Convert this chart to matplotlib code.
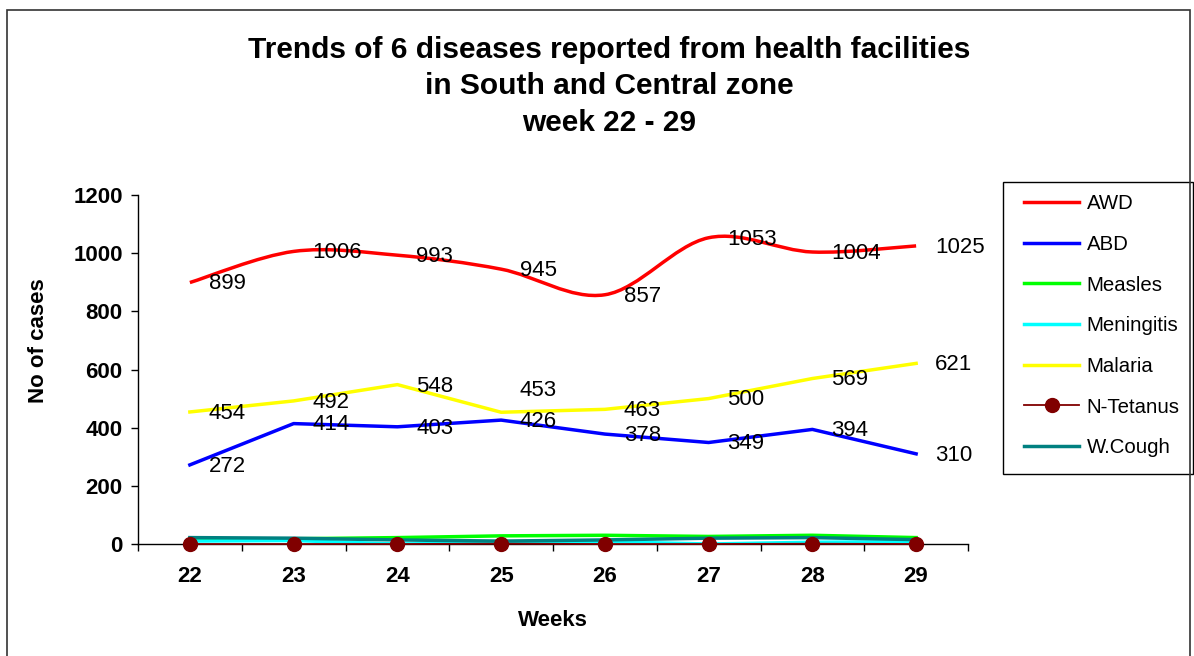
import numpy as np
import matplotlib.pyplot as plt
from matplotlib.path import Path
from matplotlib.patches import PathPatch, Rectangle
from matplotlib.lines import Line2D

plt.rcParams['font.family'] = ['Liberation Sans', 'DejaVu Sans']

# data
weeks = [22, 23, 24, 25, 26, 27, 28, 29]
awd = [899, 1006, 993, 945, 857, 1053, 1004, 1025]
abd = [272, 414, 403, 426, 378, 349, 394, 310]
measles = [16, 18, 22, 28, 30, 26, 30, 22]
meningitis = [10, 12, 0, 4, 8, 0, 6, 8]
malaria = [454, 492, 548, 453, 463, 500, 569, 621]
n_tetanus = [0, 0, 0, 1, 0, 0, 1, 0]
w_cough = [22, 20, 14, 10, 14, 20, 22, 15]

W, H = 1194, 656
fig = plt.figure(figsize=(W / 100, H / 100), dpi=100)
ax = fig.add_axes([138 / W, 1 - 544 / H, 830 / W, 349 / H])


def smooth_path(xs, ys):
    # Excel-style smoothed line: cubic Bezier through the points
    pts = np.column_stack([xs, ys]).astype(float)
    verts = [pts[0]]
    codes = [Path.MOVETO]
    n = len(pts)
    for i in range(n - 1):
        p0 = pts[i - 1] if i > 0 else pts[i]
        p1 = pts[i]
        p2 = pts[i + 1]
        p3 = pts[i + 2] if i + 2 < n else pts[i + 1]
        c1 = p1 + (p2 - p0) / 6
        c2 = p2 - (p3 - p1) / 6
        verts += [c1, c2, p2]
        codes += [Path.CURVE4] * 3
    return Path(verts, codes)


lw = 2.5
ax.add_patch(PathPatch(smooth_path(weeks, awd), facecolor='none',
                       edgecolor='#FF0000', lw=lw, zorder=3))
ax.plot(weeks, abd, color='#0000FF', lw=lw, zorder=3)
ax.plot(weeks, measles, color='#00FF00', lw=lw, zorder=3)
ax.plot(weeks, meningitis, color='#00FFFF', lw=lw, zorder=3)
ax.plot(weeks, malaria, color='#FFFF00', lw=lw, zorder=3)
ax.plot(weeks, w_cough, color='#008080', lw=lw, zorder=3.5)
ax.plot(weeks, n_tetanus, color='#800000', lw=1.3, marker='o', markersize=10,
        markerfacecolor='#800000', markeredgecolor='#800000', zorder=4,
        clip_on=False)

for series in (awd, abd, malaria):
    for x, v in zip(weeks, series):
        dy = -1
        if series is malaria and x == 25:
            dy = 16  # this label sits above the line in the original
        ax.annotate(str(v), (x, v), xytext=(13.5, dy), textcoords='offset points',
                    ha='left', va='center', fontsize=16, zorder=5)

ax.set_xlim(21.5, 29.5)
ax.set_ylim(0, 1200)
ax.set_yticks(np.arange(0, 1201, 200))
ax.set_xticks(weeks)
ax.set_xticks(np.arange(21.5, 29.6, 1), minor=True)
ax.tick_params(axis='x', which='major', length=0, pad=16, labelsize=16)
ax.tick_params(axis='x', which='minor', length=5, width=1, direction='out')
ax.tick_params(axis='y', length=5, width=1, direction='out', pad=6, labelsize=16)
for lab in ax.get_xticklabels() + ax.get_yticklabels():
    lab.set_fontweight('bold')
for s in ('top', 'right'):
    ax.spines[s].set_visible(False)
for s in ('left', 'bottom'):
    ax.spines[s].set_linewidth(1)

ax.set_ylabel('No of cases', fontsize=16, fontweight='bold')
ax.yaxis.set_label_coords(-0.107, 0.582)
ax.set_xlabel('Weeks', fontsize=16, fontweight='bold')
ax.xaxis.set_label_coords(0.5, -0.19)

title_lines = ['Trends of 6 diseases reported from health facilities',
               'in South and Central zone', 'week 22 - 29']
for i, t in enumerate(title_lines):
    fig.text(609 / W, 1 - (50 + 36.5 * i) / H, t, ha='center', va='center',
             fontsize=21.5, fontweight='bold')

# legend
fig.patches.append(Rectangle((1003 / W, 1 - 474 / H), 190 / W, 292 / H,
                             transform=fig.transFigure, fill=False,
                             edgecolor='black', lw=1))
names = ['AWD', 'ABD', 'Measles', 'Meningitis', 'Malaria', 'N-Tetanus', 'W.Cough']
colors = ['#FF0000', '#0000FF', '#00FF00', '#00FFFF', '#FFFF00', '#800000', '#008080']
handles = []
for name, c in zip(names, colors):
    if name == 'N-Tetanus':
        handles.append(Line2D([], [], color=c, lw=1.3, marker='o', markersize=10))
    else:
        handles.append(Line2D([], [], color=c, lw=lw))
fig.legend(handles, names, loc='upper left', bbox_to_anchor=(1008 / W, 1 - 178 / H),
           frameon=False, fontsize=14.7, handlelength=2.7, handletextpad=0.35,
           labelspacing=1.06, borderpad=0.3)

# outer chart border
fig.patches.append(Rectangle((7 / W, -0.01), 1183 / W, 1 - 10 / H + 0.01,
                             transform=fig.transFigure, fill=False,
                             edgecolor='#333333', lw=1.2))

fig.savefig('out.png', dpi=100)
